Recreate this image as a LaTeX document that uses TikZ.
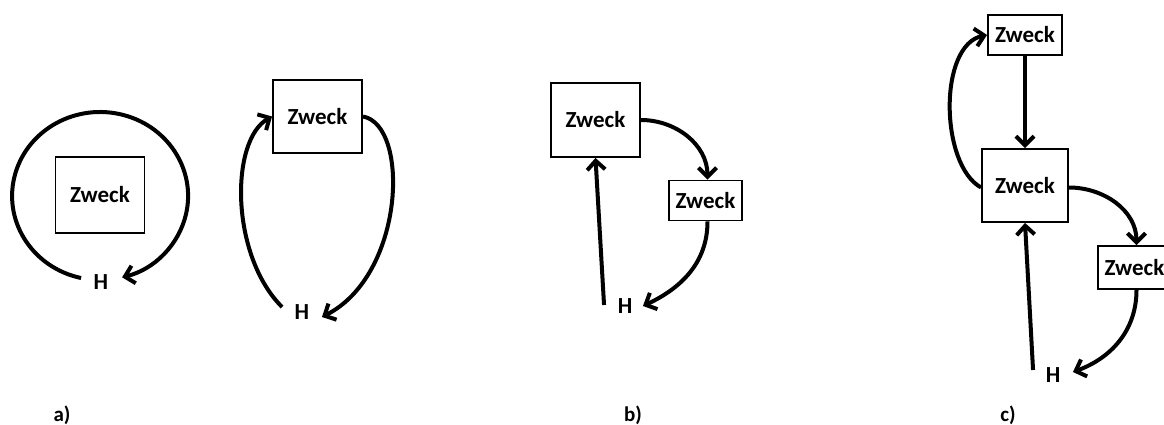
\documentclass[tikz,border=0pt]{standalone}
\usepackage{fontspec}
\setmainfont{Carlito}
\usetikzlibrary{arrows.meta}
\begin{document}
\begin{tikzpicture}[x=1pt,y=1pt,
  box/.style={draw, line width=1.9pt, font=\bfseries\fontsize{23}{26}\selectfont, inner sep=0pt},
  bigbox/.style={box, minimum width=89pt, minimum height=74pt},
  smallbox/.style={box, minimum width=73pt, minimum height=40pt},
  hnode/.style={font=\bfseries\fontsize{23}{26}\selectfont, inner xsep=12.5pt, inner ysep=2pt},
  lbl/.style={font=\bfseries\fontsize{21}{24}\selectfont},
  arr/.style={line width=4pt, -{Straight Barb[length=9pt,width=18pt]}}]
\useasboundingbox (0,0) rectangle (1164,-425);
\fill[white] (0,0) rectangle (1164,-425);
% a) first
\node[bigbox, minimum height=76pt] (a1) at (100,-195) {Zweck};
\node[hnode] (Ha1) at (101,-282) {H};
\draw[arr] ([yshift=4pt]Ha1.west) arc[start angle=257.5, end angle=-75.5, x radius=88, y radius=84];
% a) second
\node[bigbox, minimum height=73pt] (a2) at (317.5,-116.5) {Zweck};
\node[hnode] (Ha2) at (302,-312) {H};
\draw[arr] ([yshift=5pt]Ha2.west) .. controls (230,-255) and (230,-140) .. (a2.west);
\draw[arr] (a2.east) .. controls (410,-125) and (405,-275) .. ([yshift=-5pt]Ha2.east);
% b)
\node[bigbox] (b1) at (595.5,-120) {Zweck};
\node[smallbox] (b2) at (705.5,-200.5) {Zweck};
\node[hnode] (Hb) at (625,-306) {H};
\draw[arr] (b1.east) to[out=0,in=90] ([xshift=2pt]b2.north);
\draw[arr] ([xshift=2pt]b2.south) to[out=-90,in=25] ([xshift=-2pt]Hb.east);
\draw[arr] ([xshift=-1pt,yshift=1pt]Hb.west) -- (b1.south);
% c)
\node[smallbox, minimum width=74pt] (c1) at (1025,-35) {Zweck};
\node[bigbox, minimum width=86pt, minimum height=73pt] (c2) at (1025,-185.5) {Zweck};
\node[smallbox, minimum height=43pt] (c3) at (1134.5,-267.5) {Zweck};
\node[hnode] (Hc) at (1053,-375) {H};
\draw[arr] (c1.south) -- (c2.north);
\draw[arr] ([yshift=-2pt]c2.west) .. controls (940,-165) and (938,-45) .. (c1.west);
\draw[arr] ([yshift=-2pt]c2.east) to[out=0,in=90] ([xshift=2pt]c3.north);
\draw[arr] ([xshift=2pt]c3.south) to[out=-90,in=20] ([yshift=3pt]Hc.east);
\draw[arr] ([yshift=5pt]Hc.west) -- (c2.south);
% labels
\node[lbl] (la) at (62,-415) {a)};
\node[lbl] (lb) at (633,-415) {b)};
\node[lbl] (lc) at (1008,-415) {c)};
\end{tikzpicture}
\end{document}
